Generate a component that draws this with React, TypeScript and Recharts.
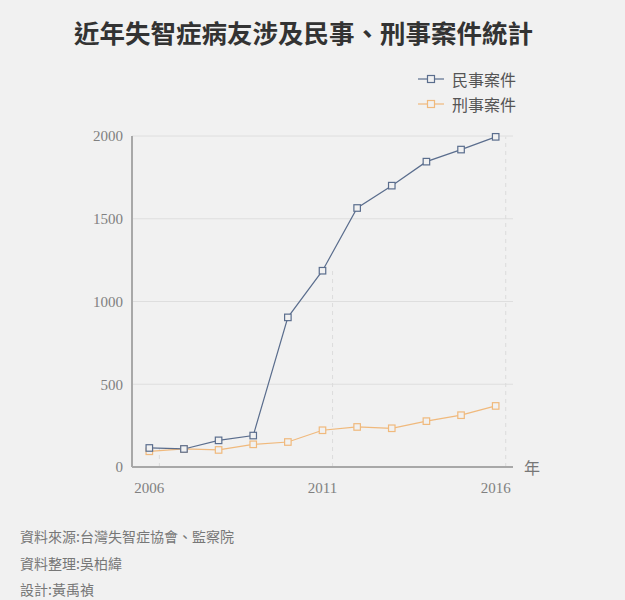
import React from 'react';
import { LineChart, Line, XAxis, YAxis, CartesianGrid, ReferenceLine } from 'recharts';

const years = [2006, 2007, 2008, 2009, 2010, 2011, 2012, 2013, 2014, 2015, 2016];
const civilCases = [115, 109, 161, 190, 904, 1186, 1565, 1700, 1845, 1918, 1995];
const criminalCases = [95, 109, 103, 137, 151, 222, 242, 234, 277, 313, 369];
const xTicks = [2006, 2011, 2016];
const yTicks = [0, 500, 1000, 1500, 2000];
const sources = ['資料來源:台灣失智症協會、監察院', '資料整理:吳柏緯', '設計:黃禹禎'];

const CIVIL = '#5a6d8d';
const CRIMINAL = '#f0b97c';
const BG = '#f1f1f1';
const SANS = '"Noto Sans CJK TC", "Noto Sans", sans-serif';
const SERIF = '"Liberation Serif", "DejaVu Serif", serif';

const data = years.map((year, i) => ({ year, civil: civilCases[i], criminal: criminalCases[i] }));

const legendItems = [
    { name: '民事案件', color: CIVIL },
    { name: '刑事案件', color: CRIMINAL },
];

// drop lines sit a little to the right of the points in the original
const DROP_OFFSET = 0.29;

const SquareDot = ({ cx, cy, stroke }: any) => {
    if (cx == null || cy == null) return null;
    return <rect x={cx - 3.25} y={cy - 3.25} width={6.5} height={6.5} fill={BG} stroke={stroke} strokeWidth={1.2} />;
};

export default function App() {
    return (
        <div style={{ position: 'fixed', top: 0, left: 0, width: 625, height: 600, background: BG, overflow: 'hidden' }}>
            <div style={{ position: 'absolute', top: 13, left: 0, width: 607, textAlign: 'center', fontFamily: SANS, fontWeight: 700, fontSize: 25.5, color: '#333' }}>
                近年失智症病友涉及民事、刑事案件統計
            </div>
            <div style={{ position: 'absolute', top: 66, left: 418, fontFamily: SANS, fontSize: 16, color: '#555' }}>
                {legendItems.map(item => (
                    <div key={item.name} style={{ display: 'flex', alignItems: 'center', height: 25 }}>
                        <svg width={26} height={10} style={{ marginRight: 8 }}>
                            <line x1={0} y1={5} x2={26} y2={5} stroke={item.color} strokeWidth={1.2} />
                            <rect x={9.5} y={1.5} width={7} height={7} fill={BG} stroke={item.color} strokeWidth={1.2} />
                        </svg>
                        <span>{item.name}</span>
                    </div>
                ))}
            </div>
            <div style={{ position: 'absolute', top: 0, left: 0 }}>
                <LineChart width={625} height={500} data={data} margin={{ top: 136, right: 112, left: 0, bottom: 3 }}>
                    <CartesianGrid vertical={false} stroke="#dedede" strokeWidth={1} />
                    {years.map((year, i) => (
                        <ReferenceLine
                            key={year}
                            segment={[{ x: year + DROP_OFFSET, y: 0 }, { x: year + DROP_OFFSET, y: civilCases[i] }]}
                            stroke={xTicks.includes(year) ? '#dcdcdc' : 'none'}
                            strokeDasharray="4 4"
                        />
                    ))}
                    <XAxis
                        dataKey="year"
                        type="number"
                        domain={[2005.5, 2016.5]}
                        ticks={xTicks}
                        tickLine={false}
                        axisLine={{ stroke: '#a8a8a8', strokeWidth: 2 }}
                        tick={{ fontFamily: SERIF, fontSize: 15, fill: '#808080' }}
                        tickMargin={9}
                    />
                    <YAxis
                        width={132}
                        domain={[0, 2000]}
                        ticks={yTicks}
                        tickLine={false}
                        axisLine={{ stroke: '#a8a8a8', strokeWidth: 2 }}
                        tick={{ fontFamily: SERIF, fontSize: 15, fill: '#808080' }}
                        tickMargin={3}
                    />
                    <Line dataKey="criminal" name="刑事案件" stroke={CRIMINAL} strokeWidth={1.2} dot={<SquareDot />} isAnimationActive={false} />
                    <Line dataKey="civil" name="民事案件" stroke={CIVIL} strokeWidth={1.2} dot={<SquareDot />} isAnimationActive={false} />
                </LineChart>
            </div>
            <div style={{ position: 'absolute', top: 455, left: 524, fontFamily: SANS, fontSize: 16, color: '#777' }}>年</div>
            <div style={{ position: 'absolute', top: 523, left: 20, fontFamily: SANS, fontSize: 14, color: '#777', lineHeight: '26.5px' }}>
                {sources.map(s => <div key={s}>{s}</div>)}
            </div>
        </div>
    );
}
